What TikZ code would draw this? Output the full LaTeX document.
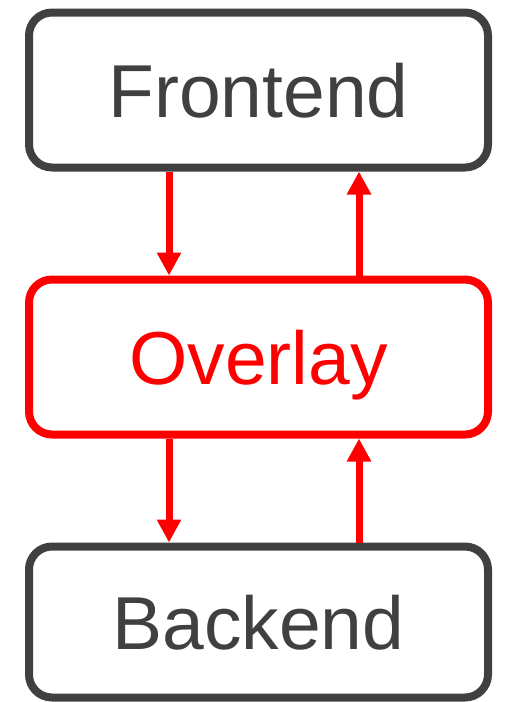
\documentclass[tikz,border=0pt]{standalone}
\usepackage{fontspec}
\setmainfont{Liberation Sans}
\usetikzlibrary{arrows.meta}
\definecolor{boxgray}{HTML}{404040}
\definecolor{ovred}{HTML}{FF0000}
\begin{document}
\begin{tikzpicture}[x=1pt,y=-1pt,
  box/.style={draw=boxgray,text=boxgray,line width=8pt,rounded corners=23pt,
    rectangle,minimum width=459pt,minimum height=155pt,inner sep=0pt,
    text height=54pt,text depth=0pt,font=\fontsize{75}{80}\selectfont},
  redbox/.style={box,draw=ovred,text=ovred},
  flow/.style={draw=ovred,line width=7pt,-{Triangle[width=23pt,length=23pt]}}]
\useasboundingbox (0,0) rectangle (504,702);
\node[box] (front) at (258.5,90) {Frontend};
\node[redbox] (over) at (258.5,357) {Overlay};
\node[box,minimum height=151pt] (back) at (258.5,622) {Backend};
\coordinate (lx) at (169,0);
\coordinate (rx) at (359,0);
\draw[flow] (front.south -| lx) -- (over.north -| lx);
\draw[flow] (over.north -| rx) -- (front.south -| rx);
\draw[flow] (over.south -| lx) -- (back.north -| lx);
\draw[flow] (back.north -| rx) -- (over.south -| rx);
\end{tikzpicture}
\end{document}
